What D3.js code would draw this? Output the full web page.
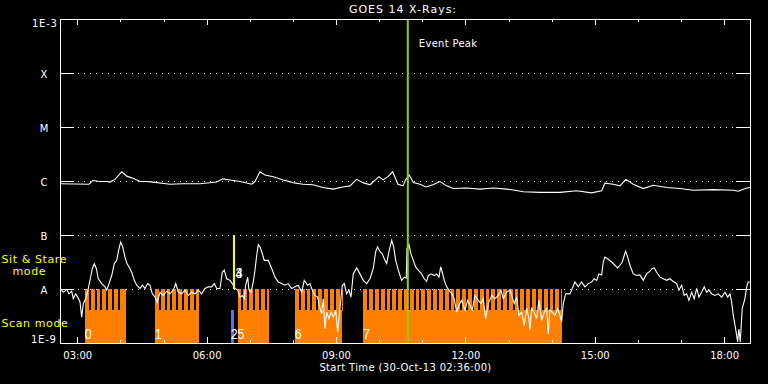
<!DOCTYPE html>
<html><head><meta charset="utf-8">
<script src="https://cdn.jsdelivr.net/npm/d3@7"></script>
<style>html,body{margin:0;padding:0;background:#000;}svg{display:block;}</style>
</head><body>
<svg id="chart" width="768" height="384"></svg>
<script>
// ---------------- data ----------------
const titleText = "GOES 14 X-Rays:";
const xAxisTitle = "Start Time (30-Oct-13 02:36:00)";
const timeDomain = [2.6, 18.6];              // hours UT, 02:36 .. 18:36
const majorTickHours = [3, 6, 9, 12, 15, 18];
const majorTickLabels = ["03:00", "06:00", "09:00", "12:00", "15:00", "18:00"];
const minorTickHours = [4, 5, 7, 8, 10, 11, 13, 14, 16, 17];
const fluxDomain = [1e-9, 1e-3];
const classFlux = [1e-3, 1e-4, 1e-5, 1e-6, 1e-7, 1e-8, 1e-9];
const classLabels = ["1E-3", "X", "M", "C", "B", "A", "1E-9"];
const gridFlux = [1e-4, 1e-5, 1e-6, 1e-7, 1e-8];

// long channel (1-8 A), time in hours UT, log10 flux (W/m^2)
const longTimes = [2.600,3.272,3.365,3.527,3.683,3.759,3.875,4.031,4.147,4.293,
  4.455,4.610,4.756,5.150,5.452,5.846,6.233,6.372,6.542,6.773,
  7.045,7.121,7.237,7.353,7.546,7.777,8.002,8.234,8.466,8.698,
  8.930,9.162,9.324,9.479,9.625,9.788,9.996,10.089,10.205,10.314,
  10.437,10.553,10.622,10.699,10.792,10.947,11.086,11.248,11.411,11.566,
  11.719,12.030,12.338,12.647,12.957,13.150,13.342,13.729,14.193,14.580,
  14.928,15.160,15.236,15.429,15.584,15.723,15.893,16.124,16.356,16.667,
  16.975,17.284,17.748,18.212,18.328,18.522,18.598];
const longLogFlux = [-6.05,-6.06,-5.99,-6.01,-6.01,-6.02,-5.97,-5.83,-5.91,-5.95,
  -6.01,-6.01,-6.02,-6.06,-6.05,-6.05,-6.02,-5.96,-5.98,-6.01,
  -6.06,-6.01,-5.83,-5.89,-5.92,-5.98,-6.03,-6.06,-6.07,-6.12,
  -6.15,-6.11,-6.09,-5.97,-6.03,-6.07,-5.92,-5.98,-5.92,-5.83,
  -6.06,-6.09,-5.97,-5.89,-6.03,-6.06,-6.11,-6.07,-6.01,-6.09,
  -6.14,-6.13,-6.15,-6.13,-6.15,-6.17,-6.20,-6.21,-6.21,-6.18,
  -6.22,-6.18,-6.04,-6.06,-6.09,-5.97,-6.06,-6.14,-6.08,-6.12,
  -6.14,-6.17,-6.16,-6.17,-6.19,-6.13,-6.12];

// short channel (0.5-4 A)
const shortTimes = [2.605,2.677,2.755,2.809,2.871,2.908,2.964,3.010,3.064,3.103,
  3.140,3.196,3.256,3.303,3.349,3.395,3.442,3.488,3.567,3.643,
  3.683,3.736,3.799,3.859,3.915,3.968,4.007,4.054,4.107,4.153,
  4.200,4.262,4.323,4.378,4.455,4.508,4.571,4.633,4.687,4.740,
  4.803,4.856,4.919,4.995,5.074,5.150,5.227,5.283,5.343,5.422,
  5.498,5.575,5.654,5.730,5.807,5.885,5.962,6.038,6.117,6.178,
  6.233,6.310,6.363,6.409,6.465,6.542,6.595,6.658,6.720,6.773,
  6.827,6.873,6.906,6.952,6.982,7.029,7.082,7.121,7.161,7.198,
  7.237,7.277,7.337,7.430,7.509,7.585,7.662,7.740,7.817,7.893,
  7.972,8.049,8.125,8.204,8.264,8.343,8.397,8.450,8.512,8.575,
  8.628,8.668,8.705,8.744,8.784,8.837,8.883,8.937,8.992,9.039,
  9.092,9.145,9.192,9.247,9.301,9.347,9.400,9.479,9.556,9.632,
  9.711,9.788,9.864,9.920,9.966,10.020,10.073,10.135,10.175,10.228,
  10.291,10.337,10.384,10.444,10.523,10.583,10.629,10.646,10.692,10.738,
  10.792,10.847,10.908,10.986,11.047,11.102,11.139,11.202,11.278,11.334,
  11.388,11.427,11.464,11.510,11.566,11.619,11.682,11.742,11.798,11.851,
  11.914,11.990,12.053,12.106,12.160,12.222,12.299,12.361,12.415,12.470,
  12.531,12.610,12.686,12.762,12.825,12.878,12.957,13.034,13.087,13.133,
  13.189,13.242,13.305,13.365,13.421,13.474,13.497,13.537,13.597,13.653,
  13.706,13.769,13.829,13.885,13.922,13.961,14.014,14.077,14.140,14.193,
  14.232,14.270,14.325,14.386,14.425,14.478,14.541,14.617,14.696,14.773,
  14.849,14.928,14.988,15.044,15.097,15.160,15.197,15.236,15.313,15.392,
  15.468,15.531,15.584,15.638,15.684,15.717,15.763,15.816,15.893,15.971,
  16.048,16.124,16.203,16.280,16.333,16.379,16.435,16.512,16.588,16.667,
  16.743,16.820,16.899,16.952,17.015,17.075,17.131,17.184,17.247,17.307,
  17.363,17.416,17.479,17.539,17.595,17.648,17.711,17.787,17.864,17.943,
  18.019,18.082,18.135,18.174,18.212,18.267,18.313,18.343,18.374,18.420,
  18.483,18.522,18.559,18.598];
const shortLogFlux = [-7.99,-8.06,-8.01,-8.09,-8.04,-8.18,-8.09,-8.15,-8.24,-8.52,
  -8.27,-8.18,-7.99,-7.81,-7.62,-7.53,-7.62,-7.81,-7.90,-7.96,
  -8.02,-7.90,-7.75,-7.53,-7.47,-7.25,-7.13,-7.22,-7.41,-7.53,
  -7.59,-7.69,-7.84,-7.93,-7.99,-7.93,-7.99,-7.90,-7.93,-8.09,
  -8.15,-8.25,-8.06,-8.12,-8.04,-8.09,-8.02,-7.90,-8.06,-8.09,
  -8.02,-8.12,-8.06,-8.09,-8.02,-8.09,-7.99,-7.96,-7.96,-7.90,
  -7.99,-7.99,-7.69,-7.65,-7.81,-7.84,-7.90,-7.99,-8.02,-8.15,
  -8.12,-8.18,-7.93,-7.78,-8.02,-8.06,-7.87,-7.65,-7.38,-7.18,
  -7.22,-7.31,-7.47,-7.47,-7.62,-7.78,-7.87,-7.90,-7.93,-7.90,
  -7.99,-7.96,-7.93,-8.06,-7.84,-7.93,-7.90,-8.02,-8.12,-8.15,
  -8.36,-8.46,-8.18,-8.74,-8.43,-8.55,-8.43,-8.52,-8.39,-8.80,
  -8.36,-7.93,-7.90,-8.09,-8.02,-8.15,-7.72,-7.61,-7.72,-7.84,
  -7.90,-7.81,-7.62,-7.31,-7.22,-7.31,-7.35,-7.47,-7.53,-7.31,
  -7.10,-7.22,-7.47,-7.65,-7.84,-7.78,-7.80,-7.25,-7.18,-7.35,
  -7.47,-7.59,-7.65,-7.72,-7.81,-7.86,-7.75,-7.72,-7.75,-7.72,
  -7.78,-7.59,-7.69,-7.84,-7.96,-8.02,-8.09,-8.18,-8.43,-8.30,
  -8.21,-8.39,-8.21,-8.30,-8.39,-8.12,-8.21,-8.27,-8.18,-8.55,
  -8.27,-8.12,-8.18,-8.12,-8.02,-8.18,-8.06,-8.02,-8.15,-8.27,
  -8.15,-8.49,-8.43,-8.67,-8.36,-8.55,-8.76,-8.36,-8.43,-8.55,
  -8.21,-8.58,-8.43,-8.36,-8.83,-8.39,-8.43,-8.49,-8.36,-8.49,
  -8.61,-8.27,-8.09,-8.09,-8.09,-7.99,-7.87,-7.96,-7.87,-7.96,
  -7.90,-7.87,-7.81,-7.84,-7.72,-7.74,-7.50,-7.41,-7.45,-7.50,
  -7.56,-7.61,-7.56,-7.50,-7.38,-7.30,-7.41,-7.56,-7.72,-7.75,
  -7.74,-7.84,-7.72,-7.67,-7.62,-7.61,-7.69,-7.78,-7.81,-7.84,
  -7.81,-7.86,-7.90,-8.02,-7.93,-8.12,-8.09,-8.21,-8.06,-8.18,
  -7.99,-8.15,-8.06,-7.96,-8.06,-8.02,-8.09,-8.12,-8.09,-8.15,
  -8.06,-8.15,-8.09,-8.24,-8.49,-8.74,-8.98,-8.74,-8.98,-8.36,
  -8.18,-7.96,-7.87,-7.87];

// IRIS-style observation blocks (hours UT)
const scanLabels  = ["0", "1", "2", "5", "6", "7"];
const scanStart   = [3.180, 4.803, 6.565, 6.720, 8.049, 9.632];
const scanEnd     = [4.123, 5.823, 6.634, 7.446, 9.132, 14.232];
const scanKind    = ["raster", "raster", "short", "raster", "raster", "raster"];
const rasterCadenceHours = 0.135;   // one raster step ~8.1 min

const sitStareLabels = ["3", "4"];
const sitStareTimes  = [6.634, 6.634];

const eventPeakTime  = 10.665;
const eventPeakLabel = "Event Peak";
const modeLabels = ["Sit & Stare", "mode", "Scan mode"];

// ---------------- drawing ----------------
const W = 768, H = 384;
const L = 60, R = 750, T = 19, B = 343;
const FONT = "DejaVu Sans";
const NUMFONT = "Liberation Sans";
const ORANGE = "#ff8000", BLUE = "#6464ff", YELLOW = "#ffff00", PEAKGREEN = "#99cc00";
const scanTopFlux = 1e-8, scanBaseFlux = 4.1e-9;

const svg = d3.select("#chart");
svg.append("rect").attr("width", W).attr("height", H).attr("fill", "#000");

const x = d3.scaleLinear().domain(timeDomain).range([L, R]);
const y = d3.scaleLog().domain(fluxDomain).range([B, T]);

svg.append("defs").append("clipPath").attr("id", "plotclip")
  .append("rect").attr("x", L).attr("y", T).attr("width", R - L).attr("height", B - T + 1);

// dotted class lines
svg.append("g").selectAll("line").data(gridFlux).join("line")
  .attr("x1", 78).attr("x2", 736)
  .attr("y1", d => Math.round(y(d)) + 0.5).attr("y2", d => Math.round(y(d)) + 0.5)
  .attr("stroke", "#fff").attr("stroke-width", 1).attr("stroke-dasharray", "1 5");

// observation blocks
const blocks = scanLabels.map((lab, i) => ({label: lab, t0: scanStart[i], t1: scanEnd[i], kind: scanKind[i]}));
const gB = svg.append("g").attr("shape-rendering", "crispEdges");
blocks.forEach(b => {
  const x0 = Math.round(x(b.t0)), x1 = Math.round(x(b.t1));
  gB.append("rect").attr("x", x0).attr("width", Math.max(1, x1 - x0))
    .attr("y", Math.round(y(scanBaseFlux))).attr("height", B - Math.round(y(scanBaseFlux)))
    .attr("fill", b.kind === "raster" ? ORANGE : BLUE);
  if (b.kind === "raster") {
    const steps = d3.range(b.t0, b.t1, rasterCadenceHours);
    steps.forEach((s, k) => {
      const sx0 = Math.round(x(s));
      const sx1 = k === steps.length - 1 ? x1 : Math.round(x(s + rasterCadenceHours)) - 2;
      gB.append("rect").attr("x", sx0).attr("width", Math.max(1, sx1 - sx0))
        .attr("y", Math.round(y(scanTopFlux))).attr("height", Math.round(y(scanBaseFlux)) - Math.round(y(scanTopFlux)) + 1)
        .attr("fill", ORANGE);
    });
  }
});

// curves
const longData = longTimes.map((t, i) => ({t, f: Math.pow(10, longLogFlux[i])}));
const shortData = shortTimes.map((t, i) => ({t, f: Math.pow(10, shortLogFlux[i])}));
const line = d3.line().x(d => x(d.t)).y(d => y(d.f));
const gC = svg.append("g").attr("clip-path", "url(#plotclip)");
[longData, shortData].forEach(ds => {
  gC.append("path").datum(ds).attr("d", line)
    .attr("fill", "none").attr("stroke", "#fff").attr("stroke-width", 1.1);
});

// sit & stare marker
svg.append("g").selectAll("line").data(sitStareTimes).join("line")
  .attr("x1", d => x(d)).attr("x2", d => x(d))
  .attr("y1", y(1e-7)).attr("y2", y(1e-8))
  .attr("stroke", YELLOW).attr("stroke-width", 2);

// event peak
svg.append("line").attr("x1", x(eventPeakTime)).attr("x2", x(eventPeakTime))
  .attr("y1", T).attr("y2", B).attr("stroke", PEAKGREEN).attr("stroke-width", 2);
svg.append("text").attr("x", x(eventPeakTime) + 11).attr("y", 46.5)
  .attr("fill", "#fff").attr("font-family", FONT).attr("font-size", 10)
  .attr("letter-spacing", 0.3).text(eventPeakLabel);

// block labels (narrow digits, like the plotting font)
svg.append("g").selectAll("text").data(blocks).join("text")
  .attr("transform", d => `translate(${x(d.t0) - 0.2},339) scale(0.84,1)`)
  .attr("fill", "#fff").attr("font-family", NUMFONT).attr("font-size", 15)
  .text(d => d.label);
svg.append("g").selectAll("text").data(sitStareLabels).join("text")
  .attr("transform", (d, i) => `translate(${x(sitStareTimes[i]) + 1.5},277.5) scale(0.84,1)`)
  .attr("fill", "#fff").attr("font-family", NUMFONT).attr("font-size", 15)
  .text(d => d);

// frame
svg.append("rect").attr("x", L + 0.5).attr("y", T + 0.5).attr("width", R - L).attr("height", B - T)
  .attr("fill", "none").attr("stroke", "#fff").attr("stroke-width", 1).attr("shape-rendering", "crispEdges");

// x axes
function styleAxis(g) {
  g.select(".domain").remove();
  g.selectAll("line").attr("stroke", "#fff").attr("shape-rendering", "crispEdges");
  g.selectAll("text").attr("fill", "#fff").attr("font-family", FONT).attr("font-size", 10);
}
svg.append("g").attr("transform", `translate(0,${B})`)
  .call(d3.axisBottom(x).tickValues(majorTickHours).tickFormat((d, i) => majorTickLabels[i]).tickSize(-6).tickPadding(9))
  .call(styleAxis);
svg.append("g").attr("transform", `translate(0,${B})`)
  .call(d3.axisBottom(x).tickValues(minorTickHours).tickFormat("").tickSize(-3))
  .call(styleAxis);
svg.append("g").attr("transform", `translate(0,${T})`)
  .call(d3.axisTop(x).tickValues(majorTickHours).tickFormat("").tickSize(-6))
  .call(styleAxis);
svg.append("g").attr("transform", `translate(0,${T})`)
  .call(d3.axisTop(x).tickValues(minorTickHours).tickFormat("").tickSize(-3))
  .call(styleAxis);

// y axes
svg.append("g").attr("transform", `translate(${L},0)`)
  .call(d3.axisLeft(y).tickValues(gridFlux).tickFormat("").tickSize(-14))
  .call(styleAxis);
svg.append("g").attr("transform", `translate(${R},0)`)
  .call(d3.axisRight(y).tickValues(gridFlux).tickFormat("").tickSize(-14))
  .call(styleAxis);

const nC = classLabels.length;
svg.append("g").selectAll("text").data(classLabels).join("text")
  .attr("x", (d, i) => (i === 0 ? 57.5 : i === nC - 1 ? 56.5 : 44))
  .attr("y", (d, i) => y(classFlux[i]) + (i === 0 ? 7.7 : i === nC - 1 ? 0.3 : 4.7))
  .attr("text-anchor", (d, i) => (i === 0 || i === nC - 1) ? "end" : "middle")
  .attr("fill", "#fff").attr("font-family", FONT).attr("font-size", 10)
  .attr("letter-spacing", (d, i) => (i === 0 || i === nC - 1) ? 0.7 : 0)
  .text(d => d);

// titles
svg.append("text").attr("x", 403).attr("y", 12.8).attr("text-anchor", "middle")
  .attr("fill", "#fff").attr("font-family", FONT).attr("font-size", 11).attr("letter-spacing", 1)
  .text(titleText);
svg.append("text").attr("x", 405.5).attr("y", 371).attr("text-anchor", "middle")
  .attr("fill", "#fff").attr("font-family", FONT).attr("font-size", 10).attr("letter-spacing", 0.35)
  .text(xAxisTitle);

// mode labels
svg.append("text").attr("x", 1.5).attr("y", 263).attr("fill", YELLOW)
  .attr("font-family", FONT).attr("font-size", 11).attr("letter-spacing", 0.6).text(modeLabels[0]);
svg.append("text").attr("x", 12.5).attr("y", 275).attr("fill", YELLOW)
  .attr("font-family", FONT).attr("font-size", 11).attr("letter-spacing", 0.6).text(modeLabels[1]);
svg.append("text").attr("x", 1.5).attr("y", 327).attr("fill", YELLOW)
  .attr("font-family", FONT).attr("font-size", 11).attr("letter-spacing", 0.6).text(modeLabels[2]);
</script>
</body></html>
